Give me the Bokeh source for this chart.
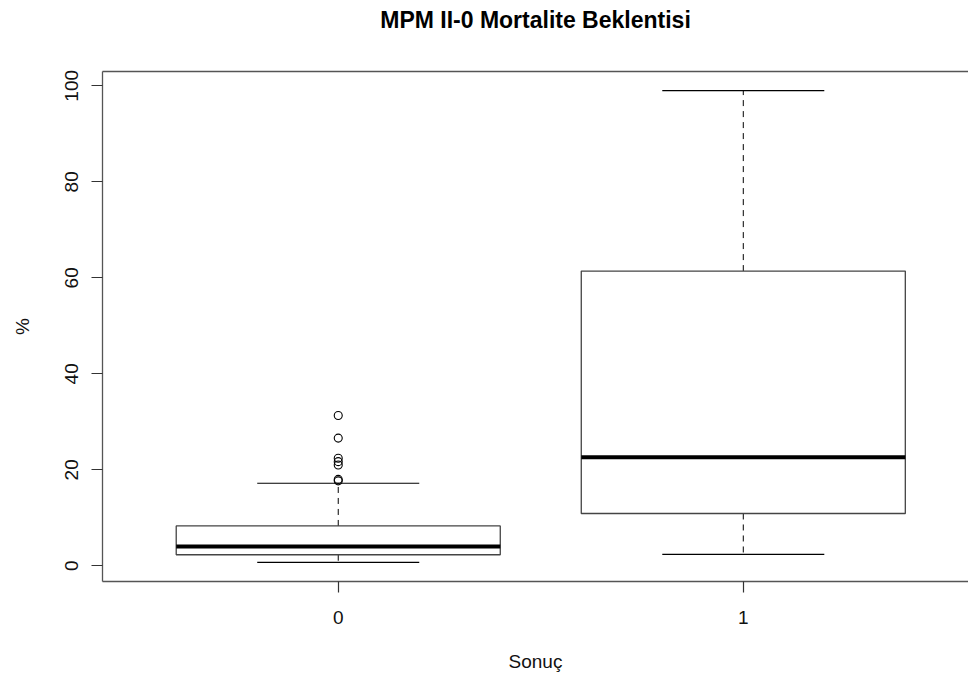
from bokeh.plotting import figure
from bokeh.models import LinearAxis, FixedTicker, Range1d
from bokeh.embed import file_html
from bokeh.resources import INLINE

# ---- data ----
groups = ["0", "1"]
lower_whisker = [0.7, 2.4]
q1 = [2.3, 10.9]
median = [4.0, 22.6]
q3 = [8.3, 61.4]
upper_whisker = [17.2, 99.0]
outlier_group = ["0", "0", "0", "0", "0", "0", "0"]
outlier_value = [31.3, 26.6, 22.4, 21.7, 21.0, 18.0, 17.7]
y_ticks = [0, 20, 40, 60, 80, 100]
title_text = "MPM II-0 Mortalite Beklentisi"
x_label = "Sonuç"
y_label = "%"

FONT = "Liberation Sans"
BOX_W = 0.8
CAP_W = 0.4

pos = {g: i + 1 for i, g in enumerate(groups)}
xs = [pos[g] for g in groups]

p = figure(width=968, height=683, output_backend="svg", toolbar_location=None,
           x_range=Range1d(0.418, 2.556), y_range=Range1d(-3.27, 102.98),
           x_axis_location=None, y_axis_location=None,
           min_border_left=102, min_border_right=0, min_border_top=71,
           min_border_bottom=102, title=title_text)
p.outline_line_color = None
p.xgrid.visible = False
p.ygrid.visible = False
p.background_fill_color = "white"
p.border_fill_color = "white"

p.title.align = "center"
p.title.text_font = FONT
p.title.text_font_size = "23px"
p.title.text_font_style = "bold"
p.title.text_color = "black"
p.title.standoff = 0
p.title.offset = 5

# whiskers (dashed)
p.segment(x0=xs, y0=q3, x1=xs, y1=upper_whisker, line_color="black",
          line_width=1, line_dash="6 5")
p.segment(x0=xs, y0=q1, x1=xs, y1=lower_whisker, line_color="black",
          line_width=1, line_dash="6 5")
# caps
p.segment(x0=[x - CAP_W / 2 for x in xs], y0=upper_whisker,
          x1=[x + CAP_W / 2 for x in xs], y1=upper_whisker,
          line_color="black", line_width=1.2)
p.segment(x0=[x - CAP_W / 2 for x in xs], y0=lower_whisker,
          x1=[x + CAP_W / 2 for x in xs], y1=lower_whisker,
          line_color="black", line_width=1.2)
# boxes
p.quad(left=[x - BOX_W / 2 for x in xs], right=[x + BOX_W / 2 for x in xs],
       bottom=q1, top=q3, fill_color="white", line_color="#444", line_width=1.3)
# medians
p.segment(x0=[x - BOX_W / 2 for x in xs], y0=median,
          x1=[x + BOX_W / 2 for x in xs], y1=median,
          line_color="black", line_width=4)
# outliers
p.scatter(x=[pos[g] for g in outlier_group], y=outlier_value, marker="circle",
          size=8, fill_color=None, line_color="black", line_width=1.1)

# axes
xaxis = LinearAxis(ticker=FixedTicker(ticks=xs),
                   major_label_overrides={pos[g]: g for g in groups})
xaxis.axis_label = x_label
p.add_layout(xaxis, "below")
yaxis = LinearAxis(ticker=FixedTicker(ticks=y_ticks))
yaxis.axis_label = y_label
p.add_layout(yaxis, "left")
top_axis = LinearAxis(ticker=FixedTicker(ticks=[]))
p.add_layout(top_axis, "above")

for ax in (xaxis, yaxis, top_axis):
    ax.axis_line_color = "#555"
    ax.axis_line_width = 1.3
    ax.major_tick_line_color = "#333"
    ax.major_tick_line_width = 1.2
    ax.major_tick_out = 11
    ax.major_tick_in = 0
    ax.minor_tick_line_color = None
    ax.major_label_text_font = FONT
    ax.major_label_text_font_size = "19px"
    ax.major_label_text_color = "#111"
    ax.axis_label_text_font = FONT
    ax.axis_label_text_font_size = "19px"
    ax.axis_label_text_font_style = "normal"
    ax.axis_label_text_color = "#111"
top_axis.major_label_text_font_size = "0px"
top_axis.major_tick_line_color = None
top_axis.major_tick_out = 0
top_axis.major_label_standoff = 0
# invisible spacer label that lifts the title away from the frame
top_axis.axis_label = "M"
top_axis.axis_label_text_alpha = 0
top_axis.axis_label_text_font_size = "19px"
top_axis.axis_label_standoff = 15

xaxis.major_label_standoff = 18
xaxis.axis_label_standoff = 24
yaxis.major_label_orientation = "vertical"
yaxis.major_label_standoff = 13
yaxis.axis_label_standoff = 30

open("out.html", "w").write(file_html(p, INLINE))
